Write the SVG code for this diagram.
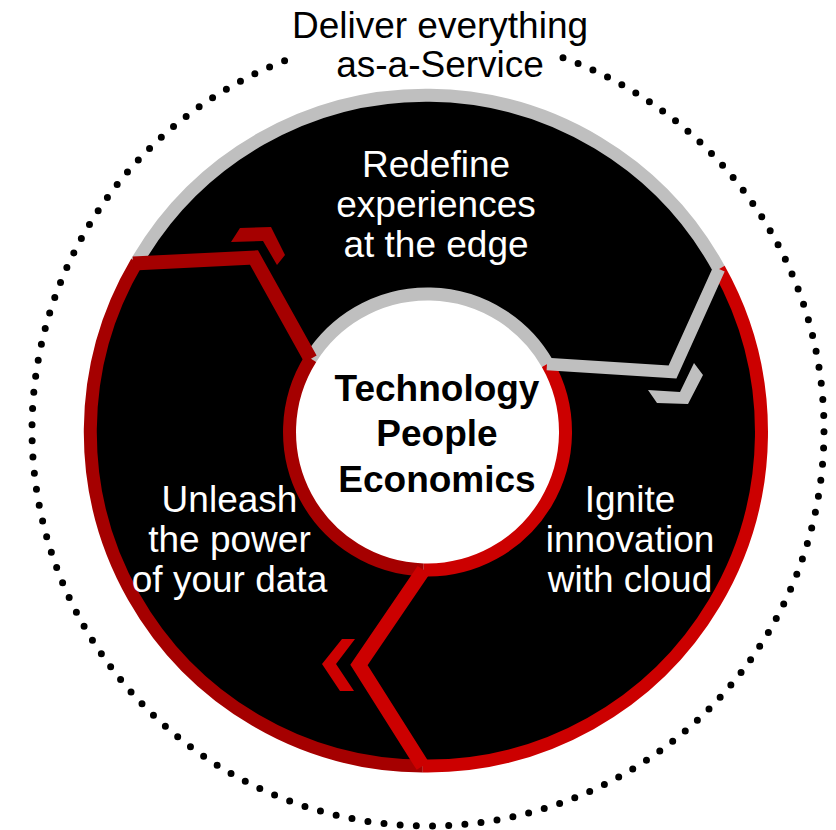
<svg xmlns="http://www.w3.org/2000/svg" width="836" height="830" viewBox="0 0 836 830">
  <style>
    .lbl { font-family: "Liberation Sans", Arial, sans-serif; font-size: 37px; text-anchor: middle; }
    .wht { fill: #ffffff; }
    .blk { fill: #000000; }
    .bold { font-weight: bold; }
    .ring { fill: none; stroke-width: 13; }
    .chev { fill: none; stroke-linejoin: miter; stroke-miterlimit: 10; }
    .gray { stroke: #bfbfbf; }
    .dred { stroke: #a50000; }
    .bred { stroke: #cc0000; }
  </style>
  <rect width="836" height="830" fill="#ffffff"/>

  <g id="outer-cycle">
    <path d="M563,57.7 A396,396 0 1 1 293,57.7" fill="none" stroke="#000" stroke-width="7" stroke-linecap="round" stroke-dasharray="0 16.2"/>
    <text class="lbl blk" x="440" y="38">Deliver everything</text>
    <text class="lbl blk" x="440" y="77">as-a-Service</text>
  </g>

  <circle cx="427.5" cy="432" r="334" fill="#000000"/>

  <g id="ring-sections">
    <path class="ring gray" d="M136.8,262.0 A334,334 0 0 1 719.0,269.0"/>
    <path class="ring bred" d="M719.0,269.0 A334,334 0 0 1 422.8,766.0"/>
    <path class="ring dred" d="M422.8,766.0 A334,334 0 0 1 136.8,262.0"/>
    <circle cx="427.5" cy="432" r="138" fill="#ffffff"/>
    <path class="ring gray" d="M310.7,358.5 A138,138 0 0 1 547.5,363.8"/>
    <path class="ring bred" d="M547.5,363.8 A138,138 0 0 1 423.6,569.9"/>
    <path class="ring dred" d="M423.6,569.9 A138,138 0 0 1 310.7,358.5"/>
  </g>

  <g id="connectors">
    <polyline class="chev dred" stroke-width="14" points="133,263.5 254,257.5 310.5,359"/>
    <polygon fill="#a50000" points="240,228 271,227 285,255 277,265 263,241 231,242"/>
    <polyline class="chev gray" stroke-width="12.5" points="719,269 672.5,372 547,364"/>
    <polygon fill="#bfbfbf" points="648,390 680,392 694,363 703,375 688,404 657,403"/>
    <polyline class="chev bred" stroke-width="14.5" points="423.6,570 359,665 422.8,766"/>
    <polygon fill="#cc0000" points="342,639 355,639 336,664 354,691 340,691 322,664"/>
  </g>

  <g id="node-edge">
    <text class="lbl wht" x="436" y="177">Redefine</text>
    <text class="lbl wht" x="436" y="217">experiences</text>
    <text class="lbl wht" x="436" y="257">at the edge</text>
  </g>

  <g id="node-cloud">
    <text class="lbl wht" x="630" y="512">Ignite</text>
    <text class="lbl wht" x="630" y="552">innovation</text>
    <text class="lbl wht" x="630" y="592">with cloud</text>
  </g>

  <g id="node-data">
    <text class="lbl wht" x="229.5" y="512">Unleash</text>
    <text class="lbl wht" x="229.5" y="552">the power</text>
    <text class="lbl wht" x="229.5" y="592">of your data</text>
  </g>

  <g id="node-center">
    <text class="lbl blk bold" x="437" y="400.5">Technology</text>
    <text class="lbl blk bold" x="437" y="446">People</text>
    <text class="lbl blk bold" x="437" y="491.5">Economics</text>
  </g>
</svg>
